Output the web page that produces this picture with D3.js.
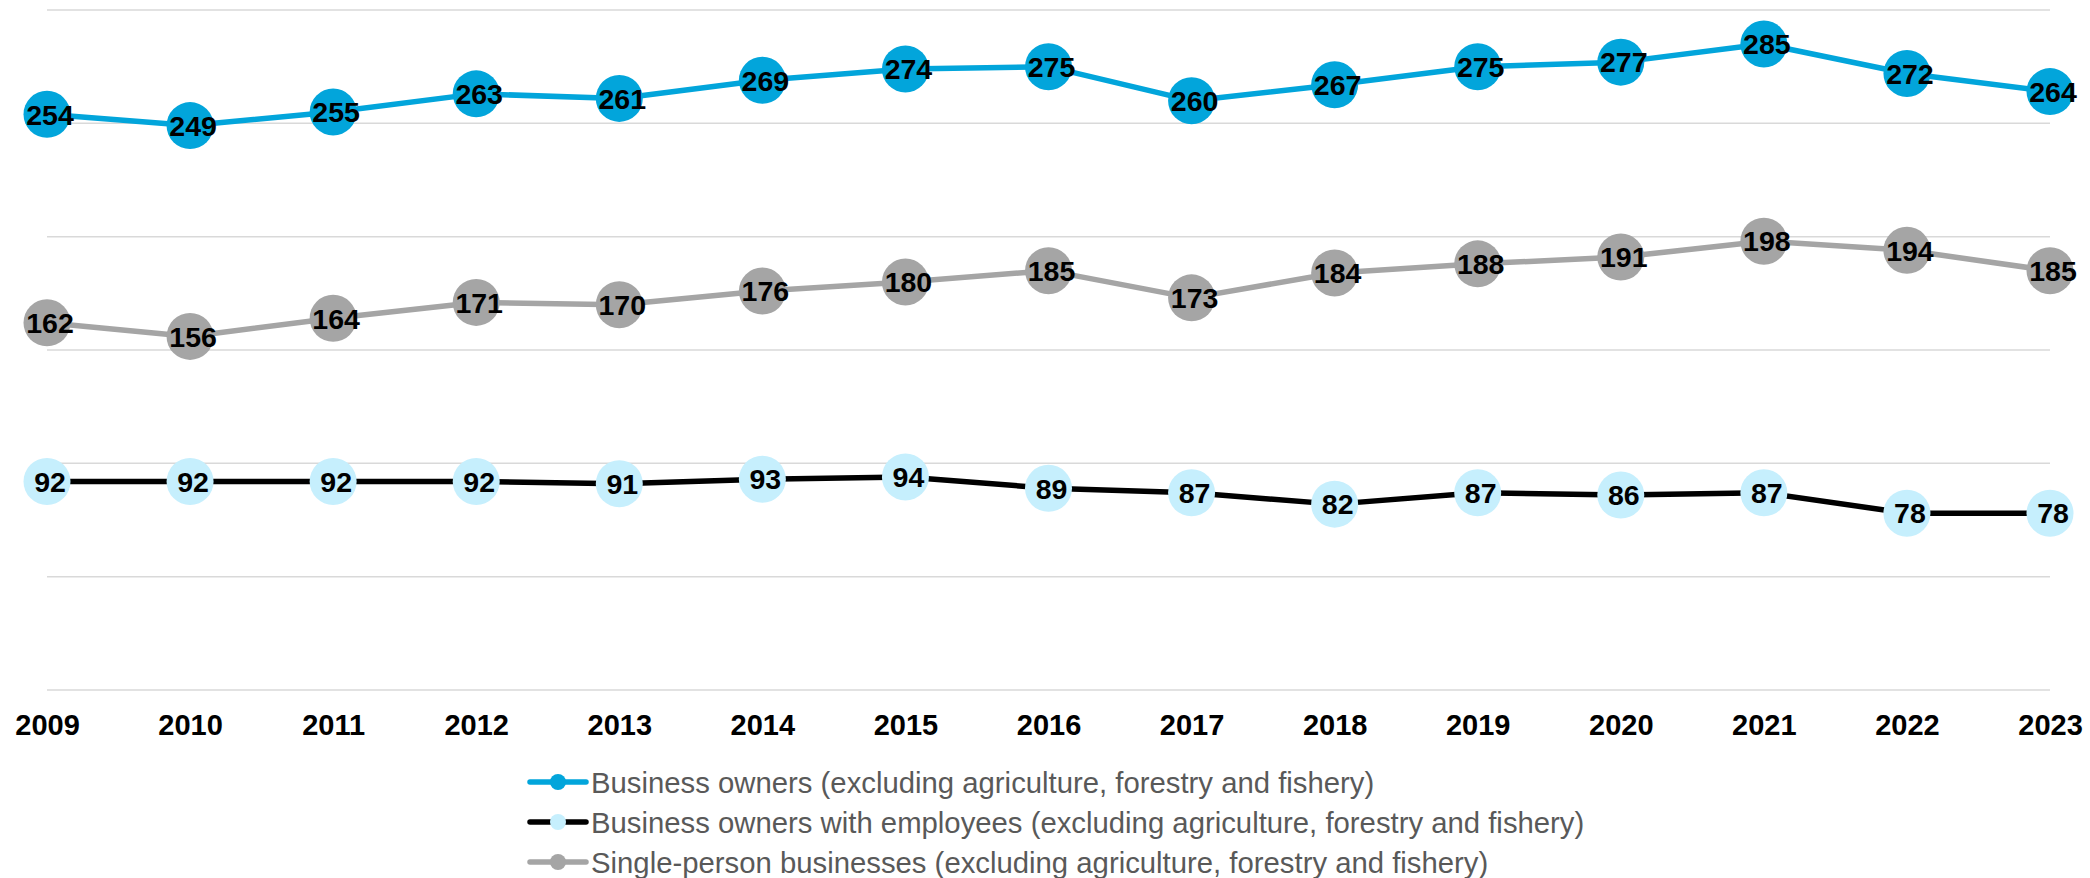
<!DOCTYPE html>
<html>
<head>
<meta charset="utf-8">
<script src="https://cdn.jsdelivr.net/npm/d3@7"></script>
<style>
  body { margin: 0; background: #fff; }
  svg { display: block; font-family: "Liberation Sans", Arial, sans-serif; }
</style>
</head>
<body>
<svg width="2090" height="878"></svg>
<script>
// data
const years = [2009, 2010, 2011, 2012, 2013, 2014, 2015, 2016, 2017, 2018, 2019, 2020, 2021, 2022, 2023]
const ownersTotal = [254, 249, 255, 263, 261, 269, 274, 275, 260, 267, 275, 277, 285, 272, 264]
const ownersWithEmployees = [92, 92, 92, 92, 91, 93, 94, 89, 87, 82, 87, 86, 87, 78, 78]
const singlePerson = [162, 156, 164, 171, 170, 176, 180, 185, 173, 184, 188, 191, 198, 194, 185]
const yTicks = [0, 50, 100, 150, 200, 250, 300]

const seriesNames = [
    "Business owners (excluding agriculture, forestry and fishery)",
    "Business owners with employees (excluding agriculture, forestry and fishery)",
    "Single-person businesses (excluding agriculture, forestry and fishery)"
]

const series = [
    { name: seriesNames[0], values: ownersTotal, line: "#02a5db", marker: "#02a5db" },
    { name: seriesNames[1], values: ownersWithEmployees, line: "#000000", marker: "#c6effd" },
    { name: seriesNames[2], values: singlePerson, line: "#a5a5a5", marker: "#a5a5a5" }
]

const svg = d3.select("svg")

const x = d3.scalePoint()
    .domain(years)
    .range([47, 2050])

const y = d3.scaleLinear()
    .domain([0, 300])
    .range([690, 10])

// gridlines
svg.append("g")
    .selectAll("line")
    .data(yTicks)
    .join("line")
    .attr("x1", 47)
    .attr("x2", 2050)
    .attr("y1", d => y(d))
    .attr("y2", d => y(d))
    .attr("stroke", "#d9d9d9")
    .attr("stroke-width", 1.5)

// x axis labels
const xAxis = svg.append("g")
    .attr("transform", "translate(0,690)")
    .call(d3.axisBottom(x).tickSize(0).tickPadding(45))
xAxis.select(".domain").remove()
xAxis.selectAll("text")
    .attr("font-size", 29)
    .attr("font-weight", "bold")
    .attr("fill", "#000")
    .attr("font-family", "Liberation Sans, Arial, sans-serif")
    .attr("dy", 0)

const line = d3.line()
    .x((d, i) => x(years[i]))
    .y(d => y(d))

// draw in order so blue sits on top like the reference
const drawOrder = [series[2], series[1], series[0]]

drawOrder.forEach(s => {
    const g = svg.append("g")
    g.append("path")
        .datum(s.values)
        .attr("d", line)
        .attr("fill", "none")
        .attr("stroke", s.line)
        .attr("stroke-width", 5.5)
        .attr("stroke-linejoin", "round")

    g.selectAll("circle")
        .data(s.values)
        .join("circle")
        .attr("cx", (d, i) => x(years[i]))
        .attr("cy", d => y(d))
        .attr("r", 23.5)
        .attr("fill", s.marker)

    g.selectAll("text")
        .data(s.values)
        .join("text")
        .attr("x", (d, i) => x(years[i]) + 3)
        .attr("y", d => y(d))
        .attr("dy", "0.36em")
        .attr("text-anchor", "middle")
        .attr("font-size", 28.5)
        .attr("font-weight", "bold")
        .attr("fill", "#000")
        .text(d => d)
})

// legend
const legend = svg.append("g")
    .selectAll("g")
    .data(series)
    .join("g")
    .attr("transform", (d, i) => `translate(530,${782 + i * 40})`)

legend.append("line")
    .attr("x1", 0)
    .attr("x2", 56)
    .attr("stroke", d => d.line)
    .attr("stroke-width", 5.5)
    .attr("stroke-linecap", "round")

legend.append("circle")
    .attr("cx", 28)
    .attr("r", 8)
    .attr("fill", d => d.marker)

legend.append("text")
    .attr("x", 61)
    .attr("dy", "0.36em")
    .attr("font-size", 29.3)
    .attr("fill", "#595959")
    .text(d => d.name)
</script>
</body>
</html>
